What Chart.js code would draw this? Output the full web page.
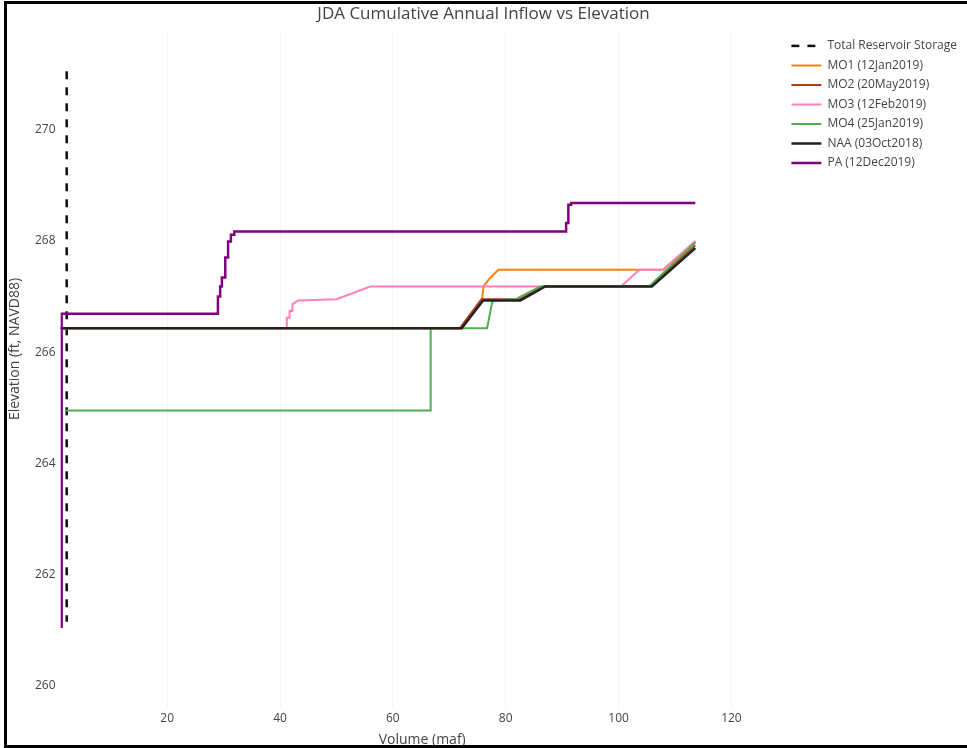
<!DOCTYPE html>
<html>
<head>
<meta charset="utf-8">
<title>JDA Cumulative Annual Inflow vs Elevation</title>
<script src="https://cdn.jsdelivr.net/npm/chart.js@4.4.1/dist/chart.umd.min.js"></script>
<style>
    html, body { margin: 0; padding: 0; background: #fff; overflow: hidden; }
    #wrap { position: relative; width: 967px; height: 748px; }
    #frame {
        position: absolute; left: 4px; top: 1px; width: 990px; height: 741px;
        border: 3px solid #000; pointer-events: none;
    }
</style>
</head>
<body>
<div id="wrap">
    <canvas id="inflowChart" width="967" height="748"></canvas>
    <div id="frame"></div>
</div>
<script>
// volume (maf) / elevation (ft) per run
const seriesNames = ['Total Reservoir Storage', 'MO1 (12Jan2019)', 'MO2 (20May2019)', 'MO3 (12Feb2019)',
    'MO4 (25Jan2019)', 'NAA (03Oct2018)', 'PA (12Dec2019)'];

const storageVol = [2.2, 2.2];
const storageElev = [271.05, 261.15];

const mo1Vol = [1.1, 71.9, 75.8, 76.1, 77.2, 78.7, 107.9, 113.6];
const mo1Elev = [266.43, 266.43, 266.95, 267.19, 267.33, 267.48, 267.48, 267.99];

const mo2Vol = [1.1, 71.9, 75.7, 82.4, 86.8, 105.6, 113.6];
const mo2Elev = [266.43, 266.43, 266.95, 266.95, 267.19, 267.19, 267.92];

const mo3Vol = [1.1, 41.2, 41.2, 41.7, 41.7, 42.2, 42.2, 43.2, 50.0, 56.0, 100.4, 103.7, 107.9, 113.6];
const mo3Elev = [266.43, 266.43, 266.62, 266.62, 266.74, 266.74, 266.86, 266.93, 266.95, 267.18, 267.18,
    267.48, 267.48, 268.0];

const mo4Vol = [1.9, 66.7, 66.7, 76.7, 77.6, 78.0, 81.7, 86.1, 105.4, 113.6];
const mo4Elev = [264.95, 264.95, 266.43, 266.43, 266.9, 266.93, 266.95, 267.18, 267.18, 267.97];

const naaVol = [1.1, 72.2, 76.0, 82.6, 87.0, 105.9, 113.6];
const naaElev = [266.43, 266.43, 266.93, 266.93, 267.18, 267.18, 267.87];

const paVol = [1.3, 1.3, 29.0, 29.0, 29.4, 29.4, 29.7, 29.7, 30.3, 30.3, 30.8, 30.8, 31.3, 31.3, 31.9, 31.9,
    90.7, 90.7, 91.1, 91.1, 91.6, 91.6, 113.6];
const paElev = [261.04, 266.69, 266.69, 267.0, 267.0, 267.18, 267.18, 267.34, 267.34, 267.7, 267.7, 267.99,
    267.99, 268.11, 268.11, 268.17, 268.17, 268.32, 268.32, 268.65, 268.65, 268.68, 268.68];

const xTicks = [20, 40, 60, 80, 100, 120];
const yTicks = [260, 262, 264, 266, 268, 270];

function pts(xs, ys) {
    return xs.map((x, i) => ({ x: x, y: ys[i] }));
}

function lineSet(idx, xs, ys, color, width, order, dash) {
    return {
        label: seriesNames[idx],
        data: pts(xs, ys),
        borderColor: color,
        backgroundColor: color,
        borderWidth: width,
        borderDash: dash || [],
        pointRadius: 0,
        pointHoverRadius: 0,
        tension: 0,
        fill: false,
        order: order
    };
}

// legend entries drawn as short line samples, keeping the dash of the dataset
function legendLabels(chart) {
    const items = Chart.defaults.plugins.legend.labels.generateLabels(chart);
    items.forEach(item => {
        const ds = chart.data.datasets[item.datasetIndex];
        item.strokeStyle = ds.borderColor;
        item.lineWidth = ds.borderWidth;
        item.lineDash = ds.borderDash;
        item.pointStyle = 'line';
    });
    return items.sort((a, b) => a.datasetIndex - b.datasetIndex);
}

// plotly style y title sits a bit above the plot centre
const yTitlePlugin = {
    id: 'yTitle',
    afterDraw(chart) {
        const ctx = chart.ctx;
        ctx.save();
        ctx.translate(15.5, 349);
        ctx.rotate(-Math.PI / 2);
        ctx.font = '14px "Open Sans"';
        ctx.fillStyle = '#444';
        ctx.textAlign = 'center';
        ctx.textBaseline = 'middle';
        ctx.fillText('Elevation (ft, NAVD88)', 0, 0);
        ctx.restore();
    }
};

const tickFont = { family: 'Open Sans', size: 12 };

new Chart(document.getElementById('inflowChart').getContext('2d'), {
    type: 'line',
    data: {
        datasets: [
            lineSet(0, storageVol, storageElev, '#111', 2.5, 7, [8, 8]),
            lineSet(1, mo1Vol, mo1Elev, '#ff7f0e', 2, 6),
            lineSet(2, mo2Vol, mo2Elev, '#a8401f', 2, 5),
            lineSet(3, mo3Vol, mo3Elev, '#ff80b8', 2, 4),
            lineSet(4, mo4Vol, mo4Elev, '#4caf50', 2, 3),
            lineSet(5, naaVol, naaElev, '#222', 2.5, 2),
            lineSet(6, paVol, paElev, '#800080', 2.5, 1)
        ]
    },
    options: {
        responsive: false,
        animation: false,
        layout: { padding: 0 },
        plugins: {
            title: {
                display: true,
                text: 'JDA Cumulative Annual Inflow vs Elevation',
                color: '#444',
                font: { family: 'Open Sans', size: 17, weight: 'normal' },
                padding: { top: 4, bottom: 8 }
            },
            legend: {
                position: 'right',
                align: 'start',
                fullSize: false,
                labels: {
                    usePointStyle: true,
                    pointStyleWidth: 30,
                    boxWidth: 30,
                    padding: 7.5,
                    color: '#444',
                    font: { family: 'Open Sans', size: 12 },
                    generateLabels: legendLabels
                }
            },
            tooltip: { enabled: false }
        },
        scales: {
            x: {
                type: 'linear',
                min: 1.1,
                max: 129.3,
                afterFit: (scale) => { scale.height = 40; },
                afterBuildTicks: (scale) => { scale.ticks = xTicks.map(v => ({ value: v })); },
                ticks: { color: '#444', font: tickFont, padding: 3, maxRotation: 0 },
                grid: { color: '#f4f4f4', drawTicks: false },
                border: { display: false },
                title: {
                    display: true,
                    text: 'Volume (maf)',
                    color: '#444',
                    font: { family: 'Open Sans', size: 14 },
                    padding: { top: 0, bottom: 0 }
                }
            },
            y: {
                type: 'linear',
                min: 259.6,
                max: 271.75,
                afterFit: (scale) => { scale.width = 60.5; },
                afterBuildTicks: (scale) => { scale.ticks = yTicks.map(v => ({ value: v })); },
                ticks: { color: '#444', font: tickFont, padding: 5 },
                grid: { display: false, drawTicks: false },
                border: { display: false }
            }
        }
    },
    plugins: [yTitlePlugin]
});
</script>
</body>
</html>
